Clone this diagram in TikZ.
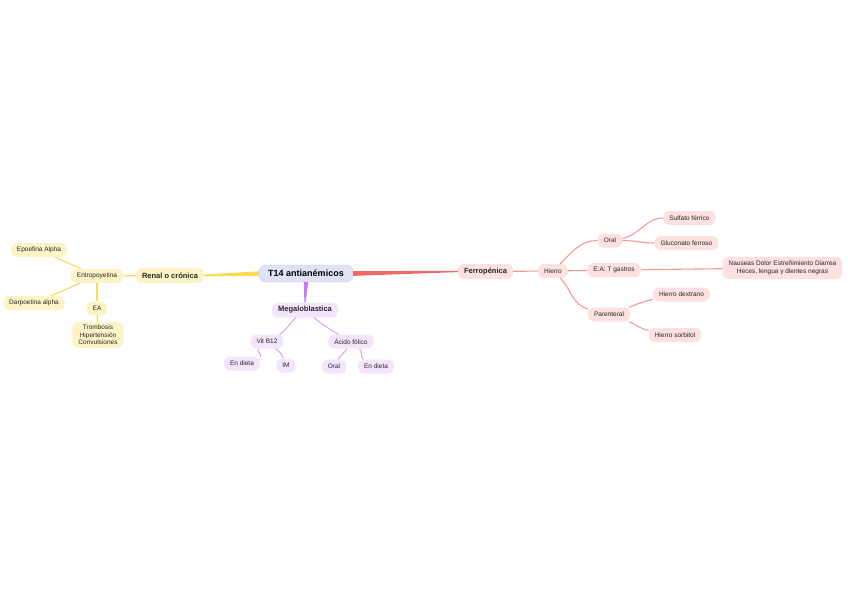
\documentclass[tikz,border=0pt]{standalone}
\usepackage{fontspec}
\setmainfont{Liberation Sans}
\usetikzlibrary{arrows.meta}

\definecolor{azulfondo}{HTML}{DFE3F8}
\definecolor{azulborde}{HTML}{C9CFF2}
\definecolor{amarillofondo}{HTML}{FCF4C6}
\definecolor{amarillolinea}{HTML}{F8DA55}
\definecolor{rojofondo}{HTML}{FDE0E0}
\definecolor{rojolinea}{HTML}{F39A95}
\definecolor{rojorama}{HTML}{EE6A68}
\definecolor{lilafondo}{HTML}{F3E6FC}
\definecolor{lilalinea}{HTML}{D9A6F4}
\definecolor{lilarama}{HTML}{C47AF0}

\begin{document}
\begin{tikzpicture}[x=1pt, y=-1pt,
  hoja/.style={rounded corners=6pt, inner xsep=6pt, inner ysep=2pt,
    minimum height=14pt, align=center, text=black!85,
    font=\fontsize{6.5}{7.5}\selectfont},
  rama/.style={hoja, font=\fontsize{7.5}{9}\bfseries\selectfont, minimum height=15pt},
  amarillo/.style={fill=amarillofondo},
  rojo/.style={fill=rojofondo},
  lila/.style={fill=lilafondo},
  lineaA/.style={draw=amarillolinea, line width=1.1pt},
  lineaR/.style={draw=rojolinea, line width=1.1pt},
  lineaL/.style={draw=lilalinea, line width=1.1pt}]
  \useasboundingbox (0,0) rectangle (848,599);

  % centro
  \node[rounded corners=7pt, fill=azulfondo, draw=azulborde, line width=0.4pt,
    minimum width=94pt, minimum height=17pt, inner sep=2pt,
    font=\fontsize{9}{11}\bfseries\selectfont] (t14) at (306,273.5) {T14 antianémicos};

  % renal
  \node[rama, amarillo] (renal) at (170,275.5) {Renal o crónica};
  \node[hoja, amarillo] (entro) at (97,276) {Entropoyetina};
  \node[hoja, amarillo] (epo) at (39,250) {Epoefina Alpha};
  \node[hoja, amarillo] (darpo) at (34,303) {Darpoetina alpha};
  \node[hoja, amarillo] (ea) at (97,308.5) {EA};
  \node[hoja, amarillo, inner ysep=3pt] (efectos) at (98,335)
    {Trombosis\\Hipertensión\\Convulsiones};

  % megaloblastica
  \node[rama, lila] (megalo) at (305,310) {Megaloblastica};
  \node[hoja, lila] (vitb) at (267,341.5) {Vit B12};
  \node[hoja, lila] (acido) at (351,341.5) {Ácido fólico};
  \node[hoja, lila] (dietaA) at (242,363.5) {En dieta};
  \node[hoja, lila] (im) at (286,365.5) {IM};
  \node[hoja, lila] (oralB) at (334,366.5) {Oral};
  \node[hoja, lila] (dietaB) at (376,366.5) {En dieta};

  % ferropenica
  \node[rama, rojo] (ferro) at (485.5,271.5) {Ferropénica};
  \node[hoja, rojo] (hierro) at (553,271) {Hierro};
  \node[hoja, rojo] (oral) at (610,240.5) {Oral};
  \node[hoja, rojo] (ea2) at (614,270) {E:A: T gastros};
  \node[hoja, rojo] (parent) at (609,314.5) {Parenteral};
  \node[hoja, rojo] (sulfato) at (689.5,218) {Sulfato férrico};
  \node[hoja, rojo] (glucon) at (686.5,243) {Gluconato ferroso};
  \node[hoja, rojo, minimum height=22pt] (nauseas) at (782.5,268)
    {Nauseas Dolor Estreñimiento Diarrea\\Heces, lengua y dientes negras};
  \node[hoja, rojo] (dextrano) at (681.5,294.5) {Hierro dextrano};
  \node[hoja, rojo] (sorbitol) at (675,335) {Hierro sorbitol};

  % ramas principales
  \fill[amarillolinea] ([yshift=2.2pt]t14.west) -- ([yshift=0.9pt]renal.east)
    -- ([yshift=-0.9pt]renal.east) -- ([yshift=-2.2pt]t14.west) -- cycle;
  \fill[rojorama] ([yshift=2.4pt]t14.east) -- ([yshift=0.6pt]ferro.west)
    -- ([yshift=-0.6pt]ferro.west) -- ([yshift=-2.4pt]t14.east) -- cycle;
  \fill[lilarama] ([xshift=-2.2pt]t14.south) -- ([xshift=-0.6pt]megalo.north)
    -- ([xshift=0.6pt]megalo.north) -- ([xshift=2.2pt]t14.south) -- cycle;

  % conectores
  \draw[lineaA] (renal) -- (entro);
  \draw[lineaA] (entro) -- (epo);
  \draw[lineaA] (entro) -- (darpo);
  \draw[lineaA] (entro) -- (ea);
  \draw[lineaA] (ea) -- (efectos);

  \draw[lineaL] (megalo) to[out=-140, in=30] (vitb);
  \draw[lineaL] (megalo) to[out=-40, in=150] (acido);
  \draw[lineaL] (vitb) to[out=-140, in=20] (dietaA);
  \draw[lineaL] (vitb) to[out=-40, in=110] (im);
  \draw[lineaL] (acido) to[out=-120, in=60] (oralB);
  \draw[lineaL] (acido) to[out=-40, in=150] (dietaB);

  \draw[lineaR] (ferro) -- (hierro);
  \draw[lineaR] (hierro) to[out=45, in=180] (oral);
  \draw[lineaR] (hierro) -- (ea2);
  \draw[lineaR] (hierro) to[out=-45, in=165] (parent);
  \draw[lineaR] (oral) to[out=10, in=180] (sulfato);
  \draw[lineaR] (oral) to[out=0, in=180] (glucon);
  \draw[lineaR] (ea2) -- (nauseas);
  \draw[lineaR] (parent) to[out=20, in=190] (dextrano);
  \draw[lineaR] (parent) to[out=-20, in=170] (sorbitol);
\end{tikzpicture}
\end{document}
